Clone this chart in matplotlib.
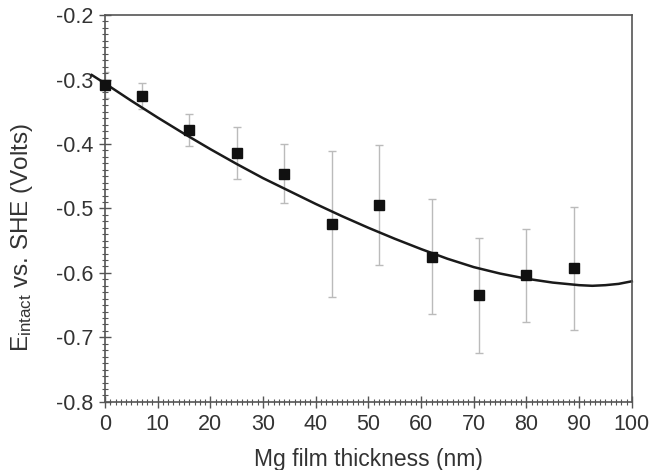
import numpy as np
import matplotlib
matplotlib.use("Agg")
import matplotlib.pyplot as plt
from matplotlib.ticker import MultipleLocator, FormatStrFormatter

plt.rcParams['font.family'] = ['Liberation Sans', 'DejaVu Sans']
plt.rcParams['mathtext.fontset'] = 'custom'
plt.rcParams['mathtext.rm'] = 'Liberation Sans'

# measured potentials
thickness = [0, 7, 16, 25, 34, 43, 52, 62, 71, 80, 89]
potential = [-0.309, -0.325, -0.378, -0.414, -0.446, -0.524, -0.494, -0.575, -0.635, -0.604, -0.593]
err = [0.020, 0.020, 0.025, 0.040, 0.046, 0.113, 0.093, 0.089, 0.089, 0.072, 0.095]

# fitted curve
fit_x = [-2.5, 0, 5, 10, 15, 20, 25, 30, 35, 40, 45, 50, 55, 60, 65, 70, 75, 80, 85,
         90, 92.5, 95, 97.5, 100]
fit_y = [-0.293, -0.306, -0.333, -0.359, -0.384, -0.408, -0.431, -0.453, -0.473, -0.493,
         -0.512, -0.530, -0.547, -0.563, -0.578, -0.591, -0.601, -0.609, -0.615,
         -0.619, -0.620, -0.619, -0.617, -0.613]

txt = '#333333'
spine = '#555555'

fig = plt.figure(figsize=(6.52, 4.70), dpi=100)
ax = fig.add_axes([0.161, 0.145, 0.808, 0.823])

ax.errorbar(thickness, potential, yerr=err, fmt='none', ecolor='#bbbbbb',
            elinewidth=1.0, capsize=3, capthick=1.0, zorder=1)
ax.plot(fit_x, fit_y, color='#1a1a1a', lw=1.8, zorder=2, clip_on=False)
ax.plot(thickness, potential, 's', color='#111111', ms=6.5, zorder=3, clip_on=False)

ax.set_xlim(0, 100)
ax.set_ylim(-0.8, -0.2)
ax.xaxis.set_major_locator(MultipleLocator(10))
ax.xaxis.set_minor_locator(MultipleLocator(1))
ax.yaxis.set_major_locator(MultipleLocator(0.1))
ax.yaxis.set_minor_locator(MultipleLocator(0.01))
ax.yaxis.set_major_formatter(FormatStrFormatter('%.1f'))

for s in ax.spines.values():
    s.set_color(spine)
    s.set_linewidth(1.2)

ax.tick_params(which='major', direction='inout', length=9, width=1.0, color=spine,
               labelsize=15.5, labelcolor=txt, pad=4)
ax.tick_params(which='minor', direction='inout', length=5, width=0.8, color=spine)
ax.tick_params(top=False, right=False, which='both')

ax.set_xlabel('Mg film thickness (nm)', fontsize=16.5, color=txt)
ax.xaxis.set_label_coords(0.5, -0.15, transform=ax.transAxes)
ax.set_ylabel(r'$\mathregular{E_{intact}}$ vs. SHE (Volts)', fontsize=17.5, color=txt)
ax.yaxis.set_label_coords(-0.157, 0.424, transform=ax.transAxes)
ax.yaxis.label.set_va('center')
ax.xaxis.label.set_va('center')

fig.savefig('out.png', dpi=100)
